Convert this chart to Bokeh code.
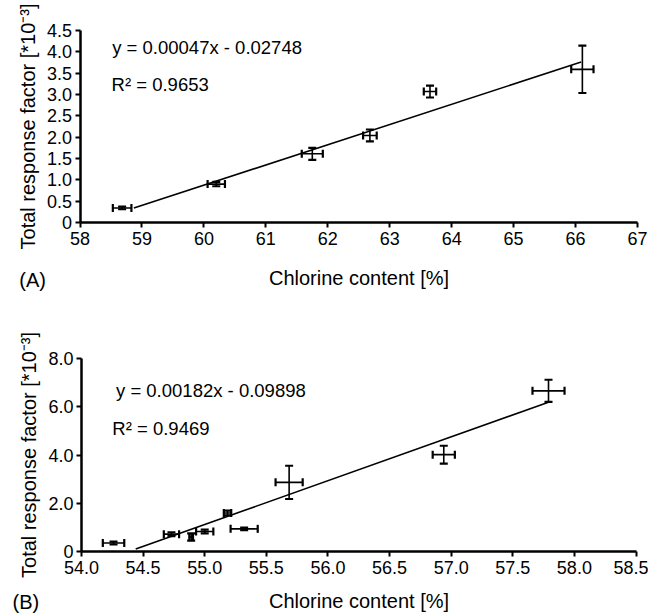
from bokeh.plotting import figure
from bokeh.models import (ColumnDataSource, Whisker, TeeHead, FixedTicker,
                          Label, Range1d)
from bokeh.layouts import column
from bokeh.embed import file_html
from bokeh.resources import INLINE

# ---------------- Panel A data ----------------
a_x = [58.68, 60.20, 61.75, 62.68, 63.65, 66.11]
a_y = [0.34, 0.90, 1.61, 2.04, 3.07, 3.59]
a_xerr = [0.15, 0.14, 0.17, 0.11, 0.10, 0.18]
a_yerr = [0.03, 0.05, 0.14, 0.14, 0.14, 0.555]
a_fit_x = [58.87, 66.09]
a_fit_y = [0.34, 3.76]
a_xticks = [58, 59, 60, 61, 62, 63, 64, 65, 66, 67]
a_xtick_labels = ["58", "59", "60", "61", "62", "63", "64", "65", "66", "67"]
a_yticks = [0, 0.5, 1.0, 1.5, 2.0, 2.5, 3.0, 3.5, 4.0, 4.5]
a_ytick_labels = ["0", "0.5", "1.0", "1.5", "2.0", "2.5", "3.0", "3.5", "4.0", "4.5"]
a_eq = "y = 0.00047x - 0.02748"
a_r2 = "R\u00b2 = 0.9653"

# ---------------- Panel B data ----------------
b_x = [54.26, 54.73, 54.89, 55.00, 55.185, 55.32, 55.685, 56.94, 57.79]
b_y = [0.35, 0.72, 0.60, 0.83, 1.60, 0.94, 2.87, 4.02, 6.67]
b_xerr = [0.087, 0.062, 0.015, 0.07, 0.03, 0.11, 0.11, 0.09, 0.13]
b_yerr = [0.06, 0.08, 0.15, 0.08, 0.1, 0.05, 0.69, 0.37, 0.46]
b_fit_x = [54.44, 57.79]
b_fit_y = [0.10, 6.20]
b_xticks = [54.0, 54.5, 55.0, 55.5, 56.0, 56.5, 57.0, 57.5, 58.0, 58.5]
b_xtick_labels = ["54.0", "54.5", "55.0", "55.5", "56.0", "56.5", "57.0", "57.5", "58.0", "58.5"]
b_yticks = [0, 2, 4, 6, 8]
b_ytick_labels = ["0", "2.0", "4.0", "6.0", "8.0"]
b_eq = "y = 0.00182x - 0.09898"
b_r2 = "R\u00b2 = 0.9469"

x_label = "Chlorine content [%]"
y_label = "Total response factor [*10\u207b\u00b3]"

FONT = "Liberation Sans"
W = 648


def px_range(v0, p0, v1, p1, size, flip=False):
    """Range whose values v0, v1 land on canvas pixels p0, p1."""
    k = (p1 - p0) / (v1 - v0)
    if not flip:
        start = v0 - p0 / k
        return Range1d(start, start + size / k)
    top = v0 + p0 / (-k)
    return Range1d(top - size / (-k), top)


def make_panel(xs, ys, xerr, yerr, fx, fy, xr, yr, xticks, xlabels, yticks, ylabels,
               eq, r2, eq_pos, r2_pos, tag, tag_pos, height, xpx, ypx, xlab_standoff):
    x_range = px_range(xr[0], xpx[0], xr[1], xpx[1], W)
    y_range = px_range(yr[1], ypx[0], yr[0], ypx[1], height, flip=True)
    p = figure(width=W, height=height, x_range=x_range, y_range=y_range,
               output_backend="svg", toolbar_location=None,
               min_border_left=0, min_border_top=0, min_border_right=0,
               min_border_bottom=0)
    p.outline_line_color = None
    p.xgrid.visible = False
    p.ygrid.visible = False
    p.background_fill_color = "white"

    src = ColumnDataSource(dict(
        x=xs, y=ys,
        xl=[a - b for a, b in zip(xs, xerr)], xu=[a + b for a, b in zip(xs, xerr)],
        yl=[a - b for a, b in zip(ys, yerr)], yu=[a + b for a, b in zip(ys, yerr)],
    ))

    p.line(fx, fy, line_color="black", line_width=1.6)

    vw = Whisker(source=src, base="x", lower="yl", upper="yu", dimension="height",
                 line_color="black", line_width=1.6,
                 upper_head=TeeHead(size=8, line_width=2.2, line_color="black"),
                 lower_head=TeeHead(size=8, line_width=2.2, line_color="black"))
    hw = Whisker(source=src, base="y", lower="xl", upper="xu", dimension="width",
                 line_color="black", line_width=1.6,
                 upper_head=TeeHead(size=8, line_width=2.2, line_color="black"),
                 lower_head=TeeHead(size=8, line_width=2.2, line_color="black"))
    p.add_layout(vw)
    p.add_layout(hw)

    for ax in (p.xaxis[0], p.yaxis[0]):
        ax.axis_line_width = 2.5
        ax.axis_line_color = "black"
        ax.major_tick_line_width = 2
        ax.major_tick_line_color = "black"
        ax.major_tick_in = 0
        ax.major_tick_out = 5
        ax.minor_tick_line_color = None
        ax.major_label_text_font = FONT
        ax.major_label_text_font_size = "18px"
        ax.major_label_text_color = "black"
        ax.axis_label_text_font = FONT
        ax.axis_label_text_font_size = "20px"
        ax.axis_label_text_font_style = "normal"
        ax.axis_label_text_color = "black"

    p.xaxis.fixed_location = yr[0]
    p.yaxis.fixed_location = xr[0]
    p.xaxis.bounds = xr
    p.yaxis.bounds = yr
    p.xaxis.ticker = FixedTicker(ticks=xticks)
    p.xaxis.major_label_overrides = {t: l for t, l in zip(xticks, xlabels)}
    p.yaxis.ticker = FixedTicker(ticks=yticks)
    p.yaxis.major_label_overrides = {t: l for t, l in zip(yticks, ylabels)}
    p.xaxis.major_label_standoff = 4
    p.yaxis.major_label_standoff = 3
    p.xaxis.axis_label = x_label
    p.yaxis.axis_label = y_label
    p.xaxis.axis_label_standoff = xlab_standoff
    p.yaxis.axis_label_standoff = 5

    for txt, pos in ((eq, eq_pos), (r2, r2_pos)):
        p.add_layout(Label(x=pos[0], y=pos[1], text=txt, text_font=FONT,
                           text_font_size="18.5px", text_baseline="middle",
                           text_align="left", text_color="black"))
    p.add_layout(Label(x=tag_pos[0], y=tag_pos[1], text=tag, text_font=FONT,
                       text_font_size="20px", text_baseline="alphabetic",
                       text_align="left", text_color="black"))
    return p


pa = make_panel(a_x, a_y, a_xerr, a_yerr, a_fit_x, a_fit_y, (58, 67), (0, 4.5),
                a_xticks, a_xtick_labels, a_yticks, a_ytick_labels,
                a_eq, a_r2, (58.52, 4.10), (58.51, 3.24), "(A)", (57.02, -1.34),
                296, (79.5, 637.0), (30.0, 222.0), 19)

pb = make_panel(b_x, b_y, b_xerr, b_yerr, b_fit_x, b_fit_y, (54, 58.5), (0, 8),
                b_xticks, b_xtick_labels, b_yticks, b_ytick_labels,
                b_eq, b_r2, (54.28, 6.68), (54.25, 5.12), "(B)", (53.44, -2.10),
                319, (81.0, 635.5), (62.3, 255.0), 13)

layout = column(pa, pb, spacing=0)

open("out.html", "w").write(file_html(layout, INLINE))
